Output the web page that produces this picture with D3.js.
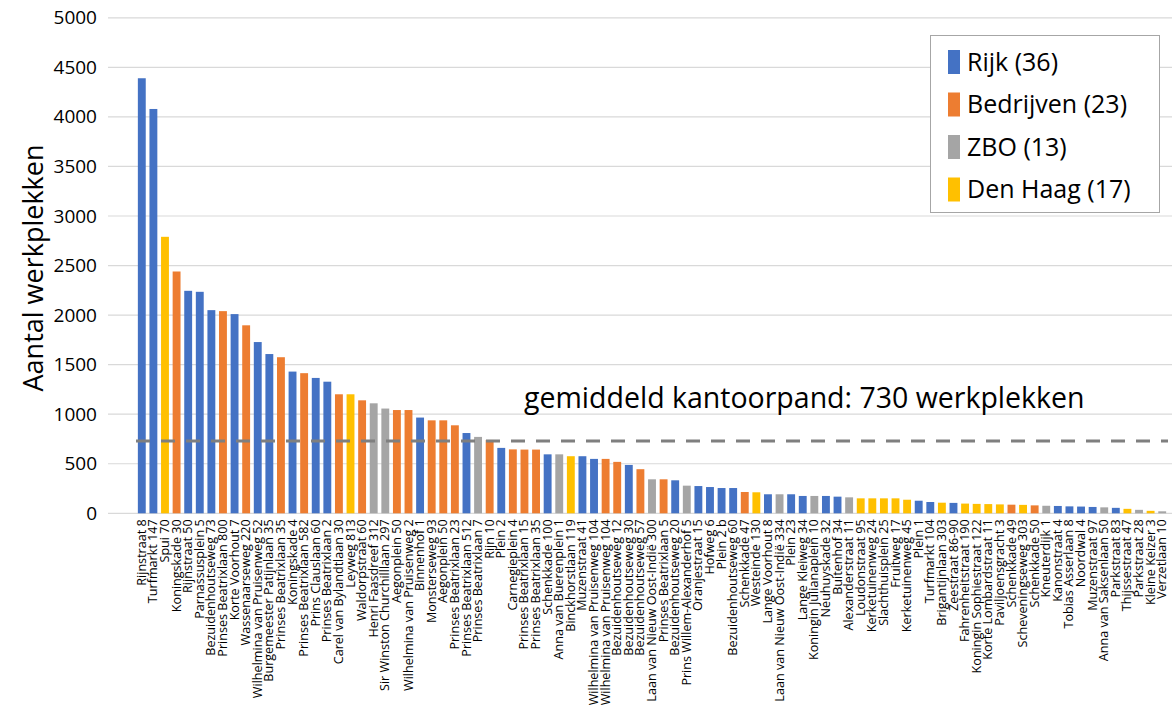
<!DOCTYPE html>
<html>
<head>
<meta charset="utf-8">
<script src="https://cdn.jsdelivr.net/npm/d3@7"></script>
<style>
  html, body { margin: 0; padding: 0; background: #fff; }
  svg { display: block; font-family: "Open Sans", "Liberation Sans", Arial, sans-serif; }
</style>
</head>
<body>
<svg id="chart" width="1172" height="721"></svg>
<script>
// Kantoorpanden in Den Haag, gesorteerd op aantal werkplekken
const panden = [
  "Rijnstraat 8", "Turfmarkt 147", "Spui 70", "Koningskade 30", "Rijnstraat 50",
  "Parnassusplein 5", "Bezuidenhoutseweg 73", "Prinses Beatrixlaan 800", "Korte Voorhout 7", "Wassenaarseweg 220",
  "Wilhelmina van Pruisenweg 52", "Burgemeester Patijnlaan 35", "Prinses Beatrixlaan 35", "Koningskade 4", "Prinses Beatrixlaan 582",
  "Prins Clauslaan 60", "Prinses Beatrixlaan 2", "Carel van Bylandtlaan 30", "Leyweg 813", "Waldorpstraat 60",
  "Henri Faasdreef 312", "Sir Winston Churchilllaan 297", "Aegonplein 50", "Wilhelmina van Pruisenweg 2", "Binnenhof 1",
  "Monsterseweg 93", "Aegonplein 50 ", "Prinses Beatrixlaan 23", "Prinses Beatrixlaan 512", "Prinses Beatrixlaan 7",
  "Rijn 10", "Plein 2", "Carnegieplein 4", "Prinses Beatrixlaan 15", "Prinses Beatrixlaan 35 ",
  "Schenkkade 100", "Anna van Buerenplein 1", "Binckhorstlaan 119", "Muzenstraat 41", "Wilhelmina van Pruisenweg 104",
  "Wilhelmina van Pruisenweg 104 ", "Bezuidenhoutseweg 12", "Bezuidenhoutseweg 30", "Bezuidenhoutseweg 57", "Laan van Nieuw Oost-Indië 300",
  "Prinses Beatrixlaan 5", "Bezuidenhoutseweg 20", "Prins Willem-Alexanderhof 5", "Oranjestraat 15", "Hofweg 6",
  "Plein 2 b", "Bezuidenhoutseweg 60", "Schenkkade 47", "Westeinde 130", "Lange Voorhout 8",
  "Laan van Nieuw Oost-Indië 334", "Plein 23", "Lange Kleiweg 34", "Koningin Julianaplein 10", "Neuhuyskade 32",
  "Buitenhof 34", "Alexanderstraat 11", "Loudonstraat 95", "Kerketuinenweg 24", "Slachthuisplein 25",
  "Fruitweg 17", "Kerketuinenweg 45", "Plein 1", "Turfmarkt 104", "Brigantijnlaan 303",
  "Zeestraat 86-90", "Fahrenheitstraat 190", "Koningin Sophiestraat 122", "Korte Lombardstraat 11", "Paviljoensgracht 3",
  "Schenkkade 49", "Scheveningseweg 303", "Schenkkade 50", "Kneuterdijk 1", "Kanonstraat 4",
  "Tobias Asserlaan 8", "Noordwal 4", "Muzenstraat 97", "Anna van Saksenlaan 50", "Parkstraat 83",
  "Thijssestraat 47", "Parkstraat 28", "Kleine Keizer 3", "Verzetlaan 10"
];

const werkplekken = [
  4390, 4080, 2790, 2440, 2245, 2235, 2050, 2040, 2010, 1897,
  1728, 1607, 1575, 1430, 1414, 1366, 1328, 1201, 1201, 1140,
  1110, 1057, 1042, 1042, 966, 938, 938, 888, 810, 771,
  740, 660, 645, 643, 643, 595, 595, 576, 576, 549,
  549, 519, 488, 445, 343, 343, 333, 279, 275, 265,
  255, 255, 215, 212, 192, 192, 192, 175, 175, 175,
  168, 161, 151, 151, 151, 151, 137, 127, 114, 107,
  105, 98, 95, 93, 90, 87, 85, 80, 76, 74,
  70, 68, 64, 60, 55, 45, 35, 25, 20
];

// R = Rijk, B = Bedrijven, Z = ZBO, G = Den Haag (gemeente)
const eigenaar = [
  "R","R","G","B","R","R","R","B","R","B",
  "R","R","B","R","B","R","R","B","G","B",
  "Z","Z","B","B","R","B","B","B","R","Z",
  "B","R","B","B","B","R","Z","G","R","R",
  "B","B","R","B","Z","B","R","Z","R","R",
  "R","R","B","G","R","Z","R","R","Z","R",
  "R","Z","G","G","G","G","G","R","R","G",
  "R","G","G","G","G","B","G","B","Z","R",
  "R","R","R","Z","R","G","Z","G","Z"
];

const groepen = ["R", "B", "Z", "G"];
const groepLabels = ["Rijk (36)", "Bedrijven (23)", "ZBO (13)", "Den Haag (17)"];
const groepKleuren = ["#4472C4", "#ED7D31", "#A5A5A5", "#FFC000"];

const yTicks = [0, 500, 1000, 1500, 2000, 2500, 3000, 3500, 4000, 4500, 5000];
const gemiddelde = 730;
const gemiddeldeTekst = "gemiddeld kantoorpand: 730 werkplekken";
const yTitel = "Aantal werkplekken";

const svg = d3.select("#chart");
const plot = { left: 136, right: 1168, top: 17.8, bottom: 513.3 };

const x = d3.scaleBand()
  .domain(d3.range(panden.length))
  .range([plot.left, plot.right])
  .paddingInner(0.32)
  .paddingOuter(0.16);

const y = d3.scaleLinear().domain([0, 5000]).range([plot.bottom, plot.top]);

const kleur = d3.scaleOrdinal().domain(groepen).range(groepKleuren);

// Horizontal gridlines
svg.append("g")
  .selectAll("line")
  .data(yTicks)
  .join("line")
  .attr("x1", 108)
  .attr("x2", 1172)
  .attr("y1", d => y(d))
  .attr("y2", d => y(d))
  .attr("stroke", "#d9d9d9")
  .attr("stroke-width", 1.2);

// Y axis labels
const yAxis = d3.axisLeft(y).tickValues(yTicks).tickSize(0).tickPadding(0).tickFormat(d3.format("d"));
const gy = svg.append("g").attr("transform", "translate(97,0)").call(yAxis);
gy.select(".domain").remove();
gy.selectAll("text")
  .attr("font-size", 19)
  .attr("font-family", "Open Sans, Liberation Sans, sans-serif")
  .attr("fill", "#000");

// Y axis title
svg.append("text")
  .attr("transform", `translate(43,${(140 + 396) / 2}) rotate(-90)`)
  .attr("text-anchor", "middle")
  .attr("font-size", 27)
  .attr("fill", "#000")
  .text(yTitel);

// Bars
svg.append("g")
  .selectAll("rect")
  .data(werkplekken)
  .join("rect")
  .attr("x", (d, i) => x(i))
  .attr("width", x.bandwidth())
  .attr("y", d => y(d))
  .attr("height", d => y(0) - y(d))
  .attr("fill", (d, i) => kleur(eigenaar[i]));

// Category labels, rotated
const xAxis = d3.axisBottom(x).tickSize(0).tickFormat(i => panden[i].trim());
const gx = svg.append("g").attr("transform", `translate(0,${plot.bottom})`).call(xAxis);
gx.select(".domain").remove();
gx.selectAll("text")
  .attr("transform", "rotate(-90)")
  .attr("x", -6)
  .attr("y", 0)
  .attr("dy", "0.32em")
  .attr("text-anchor", "end")
  .attr("font-size", 12.6)
  .attr("font-family", "Open Sans, Liberation Sans, sans-serif")
  .attr("fill", "#000");

// Average line
svg.append("line")
  .attr("x1", plot.left)
  .attr("x2", 1168)
  .attr("y1", y(gemiddelde))
  .attr("y2", y(gemiddelde))
  .attr("stroke", "#7f7f7f")
  .attr("stroke-width", 3)
  .attr("stroke-dasharray", "14 11");

svg.append("text")
  .attr("x", 524)
  .attr("y", 408)
  .attr("font-size", 28.5)
  .attr("fill", "#000")
  .text(gemiddeldeTekst);

// Legend
const legend = svg.append("g");
legend.append("rect")
  .attr("x", 930.5)
  .attr("y", 35.5)
  .attr("width", 229)
  .attr("height", 177)
  .attr("fill", "#fff")
  .attr("stroke", "#a6a6a6")
  .attr("stroke-width", 1);

const items = legend.selectAll("g.item")
  .data(groepen)
  .join("g")
  .attr("class", "item")
  .attr("transform", (d, i) => `translate(948,${62 + i * 42.5})`);

items.append("rect")
  .attr("x", 0)
  .attr("y", -12)
  .attr("width", 12)
  .attr("height", 24)
  .attr("fill", d => kleur(d));

items.append("text")
  .attr("x", 19)
  .attr("y", 0)
  .attr("dy", "0.35em")
  .attr("font-size", 25)
  .attr("fill", "#000")
  .text((d, i) => groepLabels[i]);
</script>
</body>
</html>
